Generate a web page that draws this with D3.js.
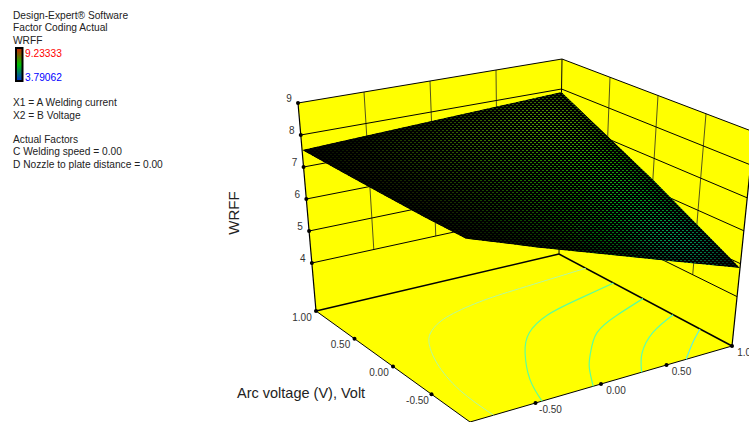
<!DOCTYPE html>
<html lang="en">
  <head>
    <meta charset="UTF-8" />
    <title>WRFF response surface</title>
    <style>
      body { margin: 0; background: #fff; }
      svg { display: block; font-family: "Liberation Sans", Arial, sans-serif; }
    </style>
  </head>
  <body>
    <script src="https://d3js.org/d3.v7.min.js"></script>
    <script>
      const width = 749
      const height = 422

      // coded factor levels and axis ticks
      const codedTicks = [-1, -0.5, 0, 0.5, 1]
      const labelledTicks = [-0.5, 0, 0.5, 1]
      const wallTicks = [-0.5, 0, 0.5]
      const zTicks = [4, 5, 6, 7, 8, 9]
      const zRange = [2.5, 9]

      // WRFF, one row per voltage level (y = -1 ... 1), x = -1 ... 1
      const rowYm100 = [7.75, 7.02, 6.32, 5.6, 4.87]
      const rowYm050 = [7.67, 7.27, 6.72, 6.15, 5.57]
      const rowY000 = [7.62, 7.4, 7.05, 6.7, 6.33]
      const rowY050 = [7.57, 7.55, 7.42, 7.28, 7.08]
      const rowY100 = [7.53, 7.62, 7.71, 7.8, 7.9]
      const surfaceRows = [rowYm100, rowYm050, rowY000, rowY050, rowY100]

      // contours on the floor, as [A, B] in coded units
      const contour75 = [[1, 0.69], [0.42, 0.63], [0.06, 0.58], [-0.27, 0.48], [-0.47, 0.35], [-0.59, 0.2], [-0.72, -0.11], [-0.81, -0.55], [-0.82, -1]]
      const contour70 = [[1, 0.37], [0.63, 0.26], [0.32, 0.15], [0.06, -0.03], [-0.14, -0.29], [-0.34, -0.67], [-0.45, -1]]
      const contour65 = [[1, 0.03], [0.7, -0.11], [0.43, -0.28], [0.21, -0.54], [0.08, -0.73], [-0.06, -1]]
      const contour60 = [[1, -0.32], [0.73, -0.49], [0.48, -0.74], [0.31, -1]]
      const contour55 = [[1, -0.63], [0.83, -0.8], [0.65, -1]]
      const contours = [contour75, contour70, contour65, contour60, contour55]
      const contourColors = ["#b4f8a0", "#5cff9c", "#5cff9c", "#5cffb0", "#5cf0e0"]

      const legendMax = 9.23333
      const legendMin = 3.79062
      const legendLines = [
        ["Design-Expert® Software", 19],
        ["Factor Coding Actual", 31],
        ["WRFF", 44],
        ["X1 = A Welding current", 106],
        ["X2 = B Voltage", 119],
        ["Actual Factors", 143],
        ["C Welding speed = 0.00", 155],
        ["D Nozzle to plate distance = 0.00", 168]
      ]

      const svg = d3.select("body").append("svg").attr("width", width).attr("height", height)
      const defs = svg.append("defs")

      // the plot box: [x, y] in pixels of the corners at the floor and at the top of z
      const floorEdgeFront = d3.scaleLinear().domain([-1, 1]).range([[470, 422], [732, 346]])
      const floorEdgeBack = d3.scaleLinear().domain([-1, 1]).range([[316, 311], [559, 254]])
      const topEdgeFront = d3.scaleLinear().domain([-1, 1]).range([[465, 195], [754, 132]])
      const topEdgeBack = d3.scaleLinear().domain([-1, 1]).range([[298, 103], [562, 59]])
      const across = d3.scaleLinear().domain([-1, 1]).range([0, 1])
      const up = d3.scaleLinear().domain(zRange).range([0, 1])

      function project(a, b, z) {
        const t = across(b)
        const floor = d3.interpolate(floorEdgeFront(a), floorEdgeBack(a))(t)
        const top = d3.interpolate(topEdgeFront(a), topEdgeBack(a))(t)
        return d3.interpolate(floor, top)(up(z))
      }

      const line = d3.line()
      const poly = (pts) => line(pts) + "Z"
      const zLow = zRange[0]
      const zHigh = zRange[1]
      const yellow = "#ffff00"

      // walls and floor
      svg.append("path").attr("fill", yellow)
        .attr("d", poly([project(-1, 1, zLow), project(1, 1, zLow), project(1, 1, zHigh), project(-1, 1, zHigh)]))
      svg.append("path").attr("fill", yellow)
        .attr("d", poly([project(1, 1, zLow), project(1, -1, zLow), project(1, -1, zHigh), project(1, 1, zHigh)]))
      svg.append("path").attr("fill", yellow)
        .attr("d", poly([project(-1, -1, zLow), project(1, -1, zLow), project(1, 1, zLow), project(-1, 1, zLow)]))

      function seg(p, q, w, color) {
        svg.append("path").attr("d", line([p, q])).attr("fill", "none").attr("stroke", color).attr("stroke-width", w)
      }

      // wall grid
      wallTicks.forEach((t) => {
        seg(project(t, 1, 4), project(t, 1, zHigh), 1, "#55551a")
        seg(project(1, t, 4), project(1, t, zHigh), 1, "#55551a")
      })
      zTicks.forEach((z) => {
        seg(project(-1, 1, z), project(1, 1, z), 1, "#000")
        seg(project(1, 1, z), project(1, -1, z), 1, "#000")
      })
      seg(project(-1, 1, zLow), project(-1, 1, zHigh), 1.2, "#000")
      seg(project(1, 1, zLow), project(1, 1, zHigh), 1, "#000")
      seg(project(1, -1, zLow), project(1, -1, zHigh), 1.2, "#000")
      seg(project(-1, 1, zLow), project(1, 1, zLow), 1.5, "#000")
      seg(project(1, 1, zLow), project(1, -1, zLow), 1.5, "#000")
      seg(project(-1, 1, zLow), project(-1, -1, zLow), 1, "#000")
      seg(project(-1, -1, zLow), project(1, -1, zLow), 1, "#000")

      // contours on the floor
      const contourLine = d3.line().curve(d3.curveNatural)
      contours.forEach((c, i) => {
        svg.append("path")
          .attr("d", contourLine(c.map((d) => project(d[0], d[1], zLow))))
          .attr("fill", "none").attr("stroke", contourColors[i]).attr("stroke-width", i === 0 ? 1 : 1.2)
      })

      // surface
      const color = d3.scaleLinear()
        .domain([legendMin, 4.95, 6.51, 7.9, legendMax])
        .range(["#0000ff", "#00b4b4", "#00c000", "#80c000", "#ff0000"])
      const brightness = d3.scaleLinear().domain([-1, -0.3, 1]).range([0.1, 0.38, 1])
      const surfacePoint = (i, j) => project(codedTicks[i], codedTicks[j], surfaceRows[j][i])
      const last = codedTicks.length - 1
      const outline = []
      d3.range(0, last).forEach((i) => outline.push(surfacePoint(i, 0)))
      d3.range(0, last).forEach((j) => outline.push(surfacePoint(last, j)))
      d3.range(last, 0, -1).forEach((i) => outline.push(surfacePoint(i, last)))
      d3.range(last, 0, -1).forEach((j) => outline.push(surfacePoint(0, j)))

      defs.append("clipPath").attr("id", "surfaceClip").append("path").attr("d", poly(outline))
      const blur = defs.append("filter").attr("id", "soft")
        .attr("filterUnits", "userSpaceOnUse")
        .attr("x", 200).attr("y", 0).attr("width", width).attr("height", height)
      blur.append("feGaussianBlur").attr("stdDeviation", 14)

      // mesh: black with small holes where the cell colour shows through
      const mesh = defs.append("pattern").attr("id", "mesh").attr("patternUnits", "userSpaceOnUse")
        .attr("width", 4).attr("height", 4)
      mesh.append("path").attr("fill", "#000").attr("fill-rule", "evenodd").attr("shape-rendering", "crispEdges")
        .attr("d", "M0 0H4V4H0Z M0 0H2V1H0Z M2 2H4V3H2Z")

      const surface = svg.append("g").attr("clip-path", "url(#surfaceClip)")
      surface.append("path").attr("d", poly(outline)).attr("fill", "#000")
      const cells = surface.append("g").attr("filter", "url(#soft)")
      d3.range(0, last).forEach((j) => {
        d3.range(0, last).forEach((i) => {
          const z = (surfaceRows[j][i] + surfaceRows[j][i + 1] + surfaceRows[j + 1][i] + surfaceRows[j + 1][i + 1]) / 4
          const a = (codedTicks[i] + codedTicks[i + 1]) / 2
          const fill = d3.interpolateRgb("#000", color(z))(brightness(a))
          cells.append("path")
            .attr("d", poly([surfacePoint(i, j), surfacePoint(i + 1, j), surfacePoint(i + 1, j + 1), surfacePoint(i, j + 1)]))
            .attr("fill", fill).attr("stroke", fill).attr("stroke-width", 2)
        })
      })
      surface.append("path").attr("d", poly(outline)).attr("fill", "url(#mesh)")

      // tick dots and labels
      const tickText = "#333"
      function dot(p) {
        svg.append("circle").attr("cx", p[0]).attr("cy", p[1]).attr("r", 2).attr("fill", "#000")
      }
      zTicks.forEach((z) => {
        const p = project(-1, 1, z)
        dot(p)
        svg.append("text").attr("x", p[0] - 9).attr("y", p[1] - 1).attr("text-anchor", "middle")
          .attr("font-size", 10).attr("fill", tickText).text(z)
      })
      labelledTicks.forEach((t) => {
        const p = project(-1, t, zLow)
        dot(p)
        svg.append("text").attr("x", p[0] - 14).attr("y", p[1] + 9.5).attr("text-anchor", "middle")
          .attr("font-size", 10).attr("fill", tickText).text(t.toFixed(2))
        const q = project(t, -1, zLow)
        dot(q)
        svg.append("text").attr("x", q[0] + 15).attr("y", q[1] + 9.5).attr("text-anchor", "middle")
          .attr("font-size", 10).attr("fill", tickText).text(t.toFixed(2))
      })

      // axis titles
      svg.append("text").attr("x", 237).attr("y", 398).attr("font-size", 14.5).attr("fill", "#222")
        .text("Arc voltage (V), Volt")
      svg.append("text").attr("transform", "translate(239,213) rotate(-90)").attr("text-anchor", "middle")
        .attr("font-size", 15).attr("fill", "#222").text("WRFF")

      // legend
      svg.selectAll(".legend").data(legendLines).enter().append("text").attr("class", "legend")
        .attr("x", 13).attr("y", (d) => d[1]).attr("font-size", 10.2).attr("fill", "#222").text((d) => d[0])
      const grad = defs.append("linearGradient").attr("id", "bar").attr("x1", 0).attr("x2", 0).attr("y1", 0).attr("y2", 1)
      grad.append("stop").attr("offset", "0%").attr("stop-color", "#d02000")
      grad.append("stop").attr("offset", "50%").attr("stop-color", "#00c000")
      grad.append("stop").attr("offset", "100%").attr("stop-color", "#0030d0")
      svg.append("rect").attr("x", 16).attr("y", 48).attr("width", 6.5).attr("height", 33)
        .attr("fill", "url(#bar)").attr("stroke", "#000").attr("stroke-width", 2)
      svg.append("text").attr("x", 25).attr("y", 57).attr("font-size", 10.2).attr("fill", "#ff0000").text(legendMax.toFixed(5))
      svg.append("text").attr("x", 25).attr("y", 81).attr("font-size", 10.2).attr("fill", "#0000ff").text(legendMin.toFixed(5))
    </script>
  </body>
</html>
